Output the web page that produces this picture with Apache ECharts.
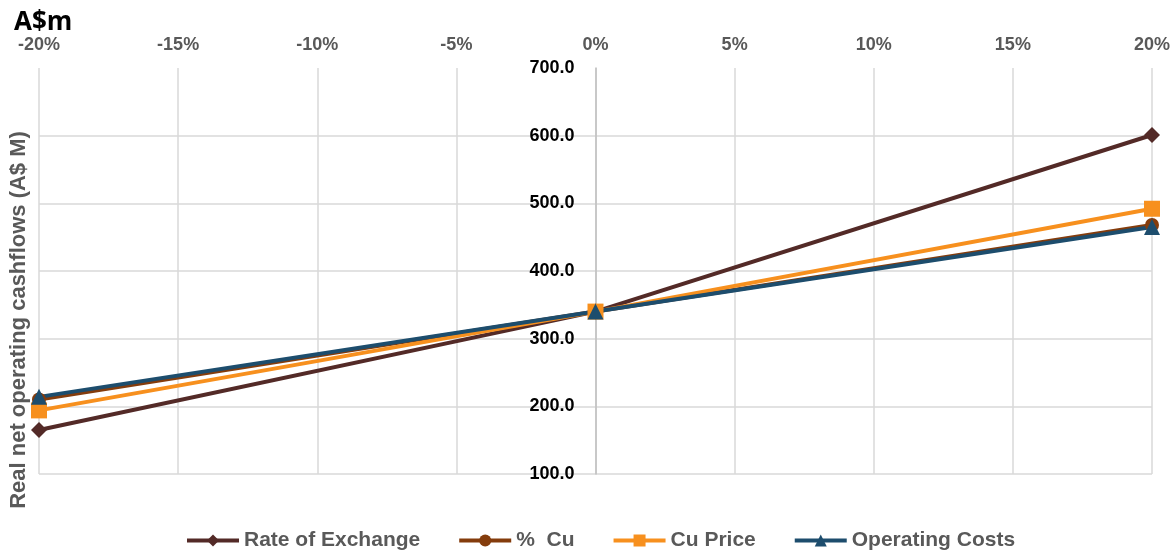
<!DOCTYPE html>
<html>
<head>
<meta charset="utf-8">
<script src="https://cdn.jsdelivr.net/npm/echarts@6/dist/echarts.min.js"></script>
<style>
html,body{margin:0;padding:0;background:#fff;}
#chart{width:1176px;height:552px;}
</style>
</head>
<body>
<div id="chart"></div>
<script>
// Sensitivity (x) as fraction, values in A$M
const sensitivities = [-0.2, 0, 0.2];
const xTicks = ['-20%','-15%','-10%','-5%','0%','5%','10%','15%','20%'];
const rateOfExchange = [165, 340, 601];
const pctCu = [210, 340, 468];
const cuPrice = [194, 340, 492];
const operatingCosts = [214, 340, 465];
const seriesNames = ['Rate of Exchange', '%  Cu', 'Cu Price', 'Operating Costs'];

const chart = echarts.init(document.getElementById('chart'));
const font = '"Liberation Sans", Arial, sans-serif';
function pairs(vals){ return sensitivities.map((x,i)=>[x, vals[i]]); }

const specs = [
  {name: seriesNames[0], data: rateOfExchange, color: '#532a27', symbol: 'diamond', size: 16},
  {name: seriesNames[1], data: pctCu, color: '#843c0c', symbol: 'circle', size: 14},
  {name: seriesNames[2], data: cuPrice, color: '#f7901e', symbol: 'rect', size: 16},
  {name: seriesNames[3], data: operatingCosts, color: '#1d4d6d', symbol: 'triangle', size: 16}
];

const gridLeft = 39, gridRight = 24;
const plotW = 1176 - gridLeft - gridRight;

chart.setOption({
  animation: false,
  grid: {left: gridLeft, right: gridRight, top: 68, bottom: 78, containLabel: false, outerBoundsMode: 'none'},
  xAxis: {
    type: 'value', position: 'top', min: -0.2, max: 0.2, interval: 0.05,
    axisLine: {show: false}, axisTick: {show: false},
    axisLabel: {
      margin: 14, color: '#595959', fontFamily: font, fontWeight: 'bold', fontSize: 18,
      formatter: function(v){ return xTicks[Math.round((v + 0.2) / 0.05)]; }
    },
    splitLine: {show: true, lineStyle: {color: '#d9d9d9', width: 1.5}}
  },
  yAxis: {
    type: 'value', min: 100, max: 700, interval: 100,
    offset: -plotW / 2,
    axisLine: {show: true, onZero: false, lineStyle: {color: '#bfbfbf', width: 1.5}},
    axisTick: {show: false},
    axisLabel: {
      margin: 21, color: '#000', fontFamily: font, fontWeight: 'bold', fontSize: 18,
      formatter: function(v){ return v.toFixed(1); }
    },
    splitLine: {show: true, lineStyle: {color: ['#d9d9d9','#d9d9d9','#d9d9d9','#d9d9d9','#d9d9d9','#d9d9d9','rgba(0,0,0,0)'], width: 1.5}}
  },
  legend: {
    top: 525, left: 180, itemWidth: 52, itemHeight: 15, itemGap: 37,
    lineStyle: {width: 4},
    textStyle: {color: '#595959', fontFamily: font, fontWeight: 'bold', fontSize: 21},
    data: seriesNames
  },
  graphic: [
    {type: 'text', left: 14, top: 10, style: {text: 'A$m', fill: '#000', font: 'bold 26px "Open Sans", sans-serif'}},
    {type: 'text', x: 19, y: 320, rotation: Math.PI/2,
     style: {text: 'Real net operating cashflows (A$ M)', fill: '#595959', font: 'bold 22px "Liberation Sans", Arial, sans-serif', align: 'center', verticalAlign: 'middle'}}
  ],
  series: specs.map(s => ({
    name: s.name, type: 'line', data: pairs(s.data),
    symbol: s.symbol, symbolSize: s.size,
    lineStyle: {color: s.color, width: 4},
    itemStyle: {color: s.color},
    z: 3
  }))
});
</script>
</body>
</html>
